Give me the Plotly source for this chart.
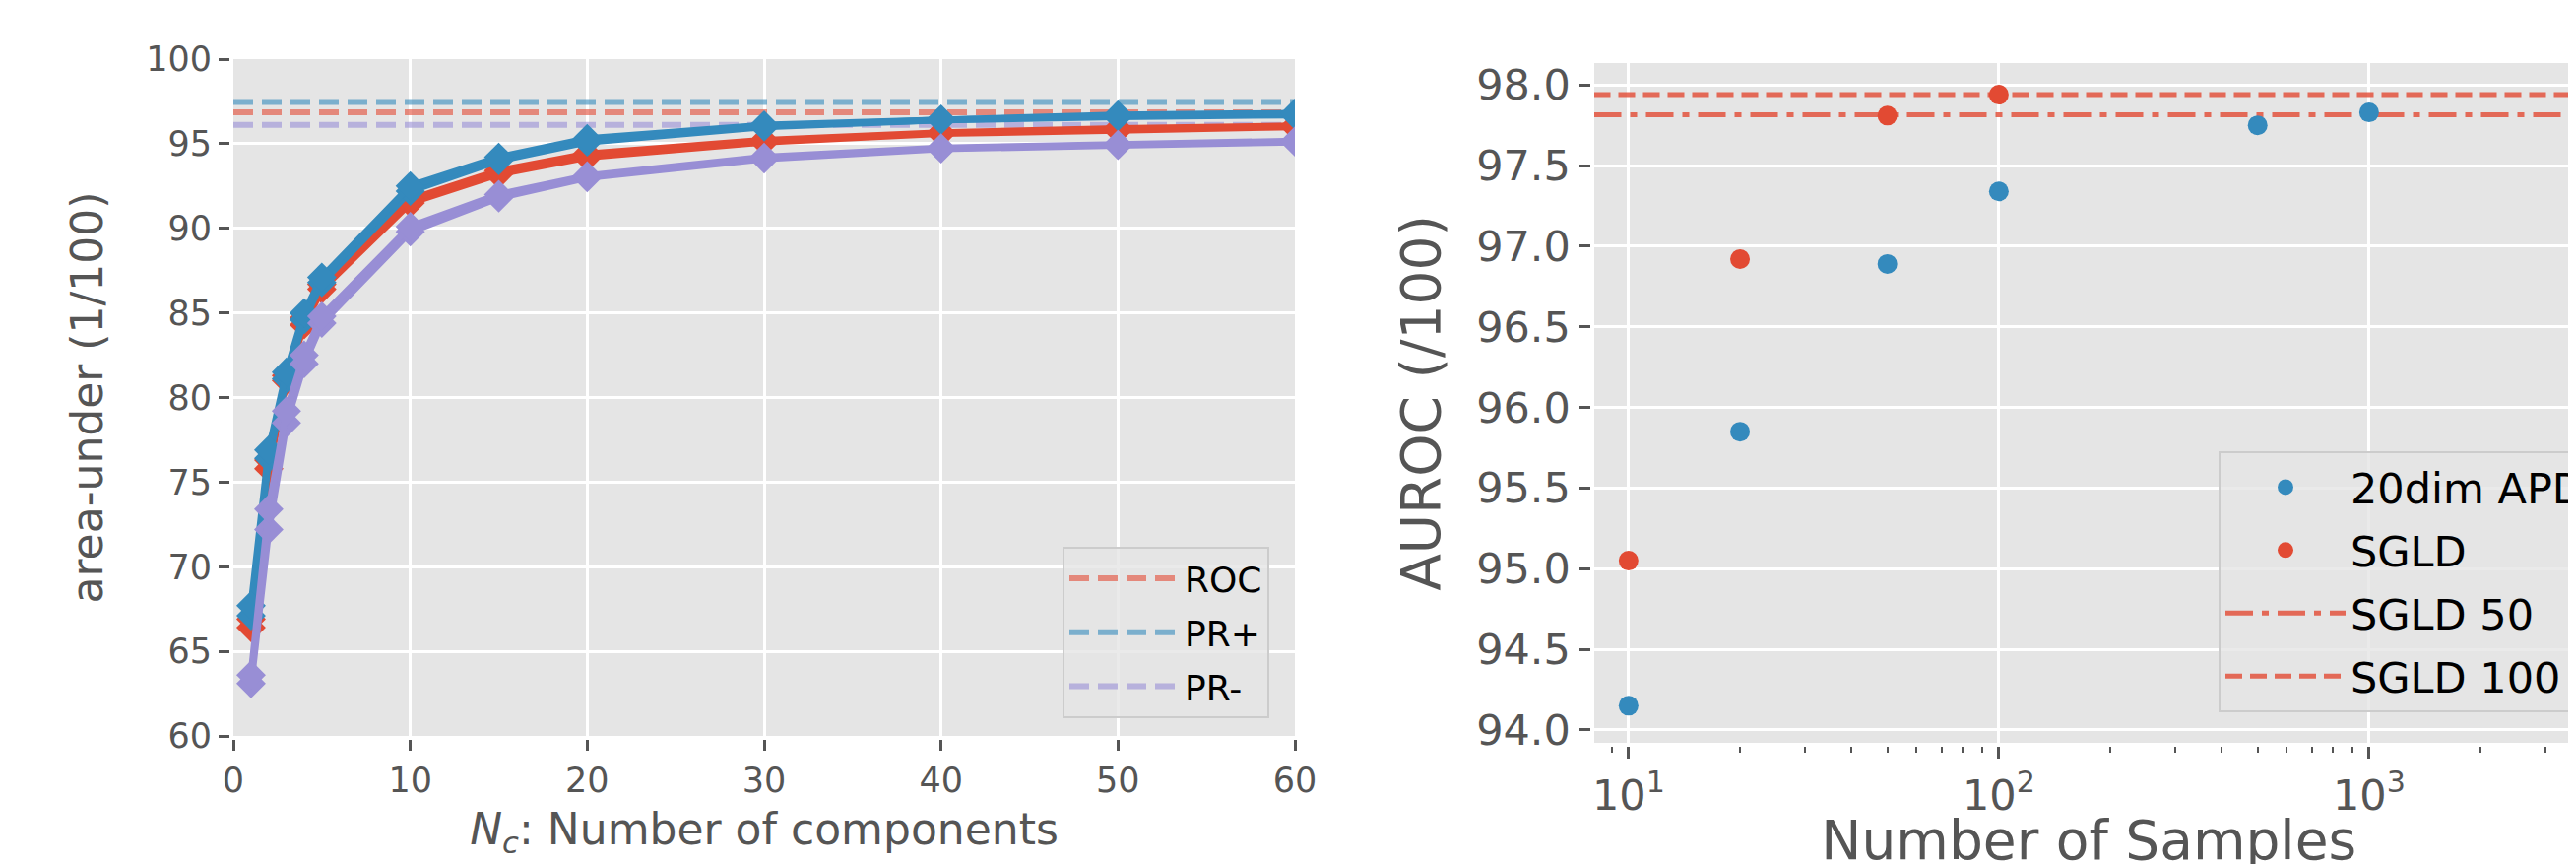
import plotly.graph_objects as go

# ---------------- Left panel data ----------------
n_components = [1, 2, 3, 4, 5, 10, 15, 20, 30, 40, 50, 60]
roc_run_a = [66.4, 75.8, 81.0, 84.3, 86.4, 91.5, 93.2, 94.2, 95.1, 95.6, 95.8, 96.0]
roc_run_b = [66.9, 76.3, 81.3, 84.7, 86.7, 91.7, 93.4, 94.4, 95.2, 95.65, 95.9, 96.05]
prpos_run_a = [67.1, 76.4, 81.1, 84.6, 86.8, 92.2, 94.0, 95.1, 96.0, 96.4, 96.6, 96.7]
prpos_run_b = [67.7, 76.9, 81.5, 85.0, 87.1, 92.5, 94.2, 95.3, 96.1, 96.45, 96.7, 96.8]
prneg_run_a = [63.1, 72.2, 78.5, 82.0, 84.4, 89.8, 91.8, 93.0, 94.1, 94.7, 94.9, 95.1]
prneg_run_b = [63.6, 73.4, 79.2, 82.5, 84.8, 90.1, 92.0, 93.1, 94.2, 94.75, 94.95, 95.15]
roc_reference = 96.86
prpos_reference = 97.46
prneg_reference = 96.12

# ---------------- Right panel data ----------------
apd_samples = [10, 20, 50, 100, 500, 1000]
apd_auroc = [94.15, 95.85, 96.89, 97.34, 97.75, 97.83]
sgld_samples = [10, 20, 50, 100]
sgld_auroc = [95.05, 96.92, 97.81, 97.94]
sgld_50 = 97.815
sgld_100 = 97.94

log_tick_vals = [10, 100, 1000]
log_tick_text = ["10<sup>1</sup>", "10<sup>2</sup>", "10<sup>3</sup>"]
log_minor_vals = [8, 9, 20, 30, 40, 50, 60, 70, 80, 90,
                  200, 300, 400, 500, 600, 700, 800, 900, 2000, 3000]

# axis limits
left_x_range = [0, 60]
left_y_range = [60, 100]
right_x_log_range = [0.906, 3.58]
right_y_range = [93.92, 98.136]
right_x_span = [10 ** right_x_log_range[0], 10 ** right_x_log_range[1]]

RED = "#E24A33"
BLUE = "#348ABD"
PURPLE = "#988ED5"
GREY = "#555555"
BG = "#E5E5E5"
FONT = "DejaVu Sans"

W, H = 2616, 877
ML, MR, MT, MB = 229, 0, 52, 131
PW, PH = W - ML - MR, H - MT - MB


def px_x(p):
    return (p - ML) / PW


def px_y(p):
    return (H - MB - p) / PH


fig = go.Figure()

# left panel reference lines (legend entries)
for name, val, rgba, rank in [("ROC", roc_reference, "rgba(226,74,51,0.6)", 1),
                              ("PR+", prpos_reference, "rgba(52,138,189,0.6)", 2),
                              ("PR-", prneg_reference, "rgba(152,142,213,0.6)", 3)]:
    fig.add_trace(go.Scatter(
        x=left_x_range, y=[val, val], mode="lines", name=name,
        line=dict(color=rgba, width=6, dash="20px,9px"),
        xaxis="x", yaxis="y", legend="legend", legendgroup=name,
        legendrank=rank, hoverinfo="name+y"))

# left panel curves (red, then blue, then purple on top)
for runs, col in [((roc_run_a, roc_run_b), RED),
                  ((prpos_run_a, prpos_run_b), BLUE),
                  ((prneg_run_a, prneg_run_b), PURPLE)]:
    for r in runs:
        fig.add_trace(go.Scatter(
            x=n_components, y=r, mode="lines+markers",
            line=dict(color=col, width=7),
            marker=dict(symbol="diamond", size=23, color=col, line=dict(width=0)),
            showlegend=False, xaxis="x", yaxis="y", hoverinfo="x+y"))

# right panel reference lines
fig.add_trace(go.Scatter(
    x=right_x_span, y=[sgld_50, sgld_50], mode="lines", name="SGLD 50",
    line=dict(color="rgba(226,74,51,0.8)", width=5, dash="28px,9px,7px,9px"),
    xaxis="x2", yaxis="y2", legend="legend2", legendgroup="s50",
    legendrank=3, hoverinfo="name+y"))
fig.add_trace(go.Scatter(
    x=right_x_span, y=[sgld_100, sgld_100], mode="lines", name="SGLD 100",
    line=dict(color="rgba(226,74,51,0.8)", width=5, dash="17px,8px"),
    xaxis="x2", yaxis="y2", legend="legend2", legendgroup="s100",
    legendrank=4, hoverinfo="name+y"))

# right panel points
fig.add_trace(go.Scatter(
    x=apd_samples, y=apd_auroc, mode="markers", name="20dim APD",
    marker=dict(size=20, color=BLUE), xaxis="x2", yaxis="y2",
    legend="legend2", legendgroup="apd", legendrank=1))
fig.add_trace(go.Scatter(
    x=sgld_samples, y=sgld_auroc, mode="markers", name="SGLD",
    marker=dict(size=20, color=RED), xaxis="x2", yaxis="y2",
    legend="legend2", legendgroup="sgld", legendrank=2))

axis_common = dict(
    showgrid=True, gridcolor="white", gridwidth=3, zeroline=False,
    ticks="outside", tickcolor=GREY, tickwidth=2.5,
    showline=True, linecolor="white", linewidth=4, mirror=False,
)

fig.update_layout(
    width=W, height=H,
    margin=dict(l=ML, r=MR, t=MT, b=MB, autoexpand=False),
    paper_bgcolor="white", plot_bgcolor=BG,
    font=dict(family=FONT, color=GREY),
    hovermode="closest",
    xaxis=dict(
        domain=[0, px_x(1307)], anchor="y", range=left_x_range, dtick=10, tick0=0,
        ticklen=11, tickfont=dict(size=35, color=GREY),
        title=dict(text="<i>N</i><sub><i>c</i></sub>: Number of components",
                   font=dict(size=44, color=GREY), standoff=16),
        **axis_common),
    yaxis=dict(
        domain=[px_y(739), 1.0], anchor="x", range=left_y_range, dtick=5, tick0=60,
        ticklen=11, tickfont=dict(size=35, color=GREY),
        title=dict(text="area-under (1/100)", font=dict(size=44, color=GREY),
                   standoff=31),
        **axis_common),
    xaxis2=dict(
        domain=[px_x(1610.5), 1.0], anchor="y2", type="log",
        range=right_x_log_range,
        tickvals=log_tick_vals, ticktext=log_tick_text,
        ticklen=12, tickfont=dict(size=43, color=GREY),
        minor=dict(tickvals=log_minor_vals, ticks="outside", ticklen=6,
                   tickwidth=2, tickcolor=GREY, showgrid=False),
        title=dict(text="Number of Samples", font=dict(size=55, color=GREY),
                   standoff=16),
        **axis_common),
    yaxis2=dict(
        domain=[0, px_y(56)], anchor="x2", range=right_y_range, dtick=0.5,
        tick0=94, tickformat=".1f",
        ticklen=11, tickfont=dict(size=43, color=GREY),
        title=dict(text="AUROC (/100)", font=dict(size=55, color=GREY),
                   standoff=20),
        **axis_common),
    legend=dict(
        x=px_x(1281), xanchor="right", y=px_y(721), yanchor="bottom",
        bgcolor="rgba(229,229,229,0.8)", bordercolor="#CCCCCC", borderwidth=2,
        font=dict(size=36, color="black", family=FONT),
        tracegroupgap=5, traceorder="grouped", itemwidth=112),
    legend2=dict(
        x=px_x(2245), xanchor="left", y=px_y(450), yanchor="top",
        bgcolor="rgba(229,229,229,0.8)", bordercolor="#CCCCCC", borderwidth=2,
        font=dict(size=43, color="black", family=FONT),
        tracegroupgap=5, traceorder="grouped", itemwidth=122),
)

fig.write_html("out.html")
